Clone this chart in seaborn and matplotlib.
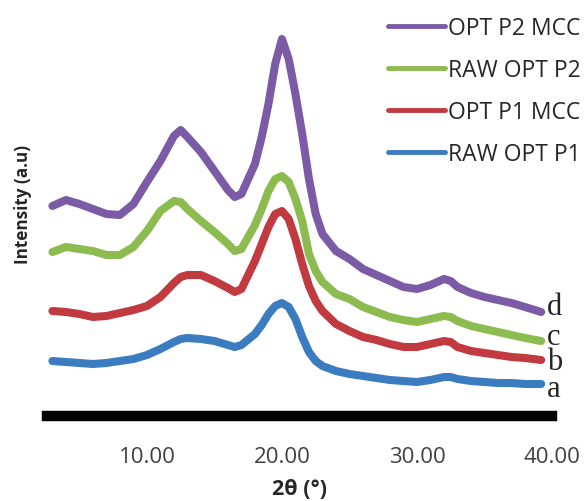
# XRD patterns of raw and MCC samples
import pandas as pd
import matplotlib
matplotlib.use("Agg")
import matplotlib.pyplot as plt
import seaborn as sns
from matplotlib.lines import Line2D

# 2theta grid (degrees)
two_theta = [3, 4, 5, 6, 7, 8, 9, 10, 11, 12, 12.5, 13, 14, 15, 16, 16.5, 17, 18,
             18.5, 19, 19.5, 20, 20.5, 21, 21.5, 22, 22.5, 23, 24, 25, 26, 27, 28,
             29, 30, 31, 32, 32.5, 33, 34, 35, 36, 37, 38, 39.2]

# intensities (a.u., curves already offset as in the figure)
opt_p2_mcc = [210, 216, 212, 207, 202, 201, 212, 234, 255, 280, 286, 279, 264, 245,
              226, 219, 222, 252, 279, 312, 352, 377, 357, 322, 282, 237, 202, 182,
              165, 157, 147, 141, 135, 129, 127, 131, 137, 135, 129, 123, 119, 116,
              113, 109, 104]
raw_opt_p2 = [164, 169, 167, 165, 161, 161, 169, 185, 205, 215, 214, 207, 195, 184,
              172, 165, 167, 191, 207, 225, 237, 240, 234, 217, 195, 162, 145, 134,
              122, 117, 109, 104, 99, 96, 94, 97, 100, 99, 95, 90, 87, 84, 81, 78, 75]
opt_p1_mcc = [105, 104, 102, 99, 100, 103, 106, 110, 119, 133, 139, 141, 141, 135,
              128, 124, 127, 155, 172, 189, 202, 205, 197, 177, 152, 130, 115, 105,
              92, 85, 79, 76, 72, 69, 69, 72, 75, 74, 69, 65, 63, 61, 59, 58, 56]
raw_opt_p1 = [55, 54, 53, 52, 53, 55, 57, 61, 67, 74, 77, 78, 77, 75, 71, 69, 71,
              82, 91, 102, 110, 113, 109, 97, 79, 64, 55, 50, 45, 42, 40, 38, 36, 35,
              34, 36, 39, 39, 37, 35, 34, 33, 33, 32, 32]

series_names = ["OPT P2 MCC", "RAW OPT P2", "OPT P1 MCC", "RAW OPT P1"]
colors = ["#7B5AA6", "#8CBB50", "#C13A40", "#3B7CC0"]
# curve letters; c and b sit so close that they share one text block
letter_texts = ["d", "c\nb", "a"]
letter_y = [102, 47, 20]

df = pd.concat([
    pd.DataFrame({"2theta": two_theta, "Intensity": vals, "Sample": name})
    for name, vals in zip(series_names, [opt_p2_mcc, raw_opt_p2, opt_p1_mcc, raw_opt_p1])
])

sns.set_style("white")
plt.rcParams["font.family"] = ["Open Sans", "DejaVu Sans"]

fig = plt.figure(figsize=(5.88, 5.02), dpi=100)
ax = fig.add_axes([47 / 588, 1 - 417 / 502, 505 / 588, 400 / 502])

sns.lineplot(data=df, x="2theta", y="Intensity", hue="Sample", hue_order=series_names,
             palette=colors, linewidth=5.8, legend=False, ax=ax)

ax.set_xlim(2.6, 40)
ax.set_ylim(0, 400)
ax.set_xticks([10, 20, 30, 40])
ax.set_xticklabels(["10.00", "20.00", "30.00", "40.00"])
ax.set_yticks([])
ax.tick_params(axis="x", length=0, pad=21.5, labelsize=16, labelcolor="#404040")
for side in ["top", "right", "left"]:
    ax.spines[side].set_visible(False)
ax.spines["bottom"].set_linewidth(7.5)
ax.spines["bottom"].set_color("black")
ax.set_xlabel("2θ (°)", fontsize=15.5, fontweight="bold", labelpad=8)
ax.set_ylabel("")
fig.text(23 / 588, 1 - 205 / 502, "Intensity (a.u)", rotation=90, fontsize=12.3,
         fontweight="bold", ha="center", va="center")

for txt, yv in zip(letter_texts, letter_y):
    ax.text(39.6, yv, txt, fontsize=22, family="Liberation Serif", linespacing=0.8,
            ha="left", va="baseline", clip_on=False)

handles = [Line2D([], [], color=c, lw=3.5) for c in colors]
ax.legend(handles, series_names, loc="upper left", bbox_to_anchor=(388 / 588, 1 - 17 / 502),
          bbox_transform=fig.transFigure, frameon=False, fontsize=16.5,
          handlelength=2.5, handletextpad=0.13, labelspacing=0.78, borderpad=0,
          borderaxespad=0, labelcolor="#262626")

fig.savefig("out.png", dpi=100)
